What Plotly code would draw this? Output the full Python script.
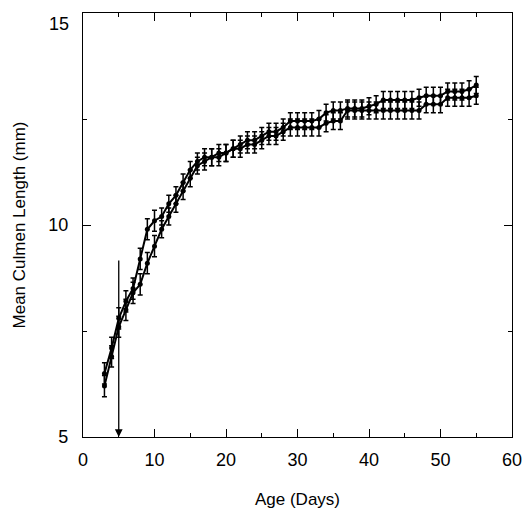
import plotly.graph_objects as go

# age in days
days = list(range(3, 56))

# group A (upper curve early on)
len_a = [6.5, 7.1, 7.8, 8.2, 8.5, 9.2, 9.9, 10.1, 10.2, 10.5,
         10.7, 11.0, 11.3, 11.5, 11.6, 11.6, 11.7, 11.7, 11.8, 11.9,
         12.0, 12.0, 12.1, 12.2, 12.2, 12.3, 12.45, 12.45, 12.45, 12.45,
         12.5, 12.65, 12.7, 12.7, 12.75, 12.75, 12.75, 12.8, 12.85, 12.95,
         12.95, 12.95, 12.95, 12.95, 13.0, 13.05, 13.05, 13.05, 13.15, 13.15,
         13.15, 13.2, 13.3]
err_a = [0.25] * 8 + [0.2] * 45

# group B (lower curve early on)
len_b = [6.2, 6.9, 7.6, 8.0, 8.4, 8.6, 9.1, 9.5, 9.9, 10.2,
         10.5, 10.8, 11.1, 11.4, 11.5, 11.6, 11.6, 11.7, 11.8, 11.8,
         11.9, 11.9, 12.0, 12.1, 12.1, 12.2, 12.3, 12.3, 12.3, 12.3,
         12.3, 12.4, 12.45, 12.45, 12.7, 12.7, 12.7, 12.7, 12.7, 12.7,
         12.7, 12.7, 12.7, 12.7, 12.7, 12.85, 12.85, 12.85, 13.0, 13.0,
         13.0, 13.0, 13.05]
err_b = [0.25] * 8 + [0.2] * 45

y_ticks = [5, 10]
y_top = 15
arrow_day = 5
arrow_top = 9.2

fig = go.Figure()
for y, e in [(len_a, err_a), (len_b, err_b)]:
    fig.add_trace(go.Scatter(
        x=days, y=y, mode="lines+markers",
        line=dict(color="black", width=2),
        marker=dict(color="black", size=5),
        error_y=dict(type="data", array=e, color="black", thickness=1.5, width=2.5),
        showlegend=False,
    ))

fig.add_annotation(x=arrow_day, y=5, ax=arrow_day, ay=arrow_top, xref="x", yref="y",
                   axref="x", ayref="y", text="", showarrow=True,
                   arrowhead=2, arrowsize=1.2, arrowwidth=1.3, arrowcolor="black")

# top y label sits just below the axis top, like in the original
fig.add_annotation(x=0, y=y_top, xref="paper", yref="y", text=str(y_top),
                   showarrow=False, xanchor="right", yanchor="top", xshift=-12, yshift=1,
                   font=dict(family="Liberation Sans, Arial", size=18, color="black"))

axis_common = dict(
    showgrid=False, zeroline=False, showline=True, linecolor="black", linewidth=1.3,
    mirror="ticks", ticks="inside", ticklen=8, tickcolor="black", tickwidth=1.2,
    automargin=False,
    tickfont=dict(family="Liberation Sans, Arial", size=18, color="black"),
    title_font=dict(family="Liberation Sans, Arial", size=17, color="black"),
)

fig.update_xaxes(range=[0, 60], dtick=10, title_text="Age (Days)",
                 minor=dict(dtick=5, ticks="inside", ticklen=4, tickcolor="black"),
                 ticklabelstandoff=6, title_standoff=24, **axis_common)
fig.update_yaxes(range=[5, 15], tickvals=y_ticks, title_text="Mean Culmen Length (mm)",
                 minor=dict(dtick=2.5, ticks="inside", ticklen=4, tickcolor="black"),
                 ticklabelstandoff=10, title_standoff=18, **axis_common)

# page body adds an 8px margin, so the figure is a bit smaller than the window
fig.update_layout(
    width=524, height=503,
    margin=dict(l=75, r=20, t=5, b=74),
    plot_bgcolor="white", paper_bgcolor="white",
)

fig.write_html("out.html")
